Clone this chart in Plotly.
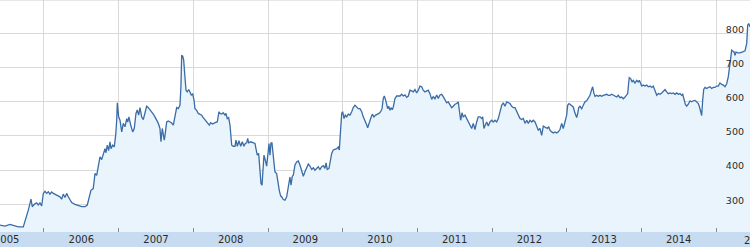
import plotly.graph_objects as go

# time in decimal years, price values
t = [
    2005.411, 2005.478, 2005.545, 2005.612, 2005.656, 2005.723, 2005.759, 2005.790, 2005.826, 2005.843,
    2005.870, 2005.902, 2005.924, 2005.946, 2005.969, 2005.991, 2006.013, 2006.036, 2006.058, 2006.080,
    2006.103, 2006.125, 2006.170, 2006.214, 2006.237, 2006.258, 2006.281, 2006.304, 2006.325, 2006.348,
    2006.371, 2006.415, 2006.459, 2006.505, 2006.549, 2006.580, 2006.607, 2006.629, 2006.660, 2006.683,
    2006.706, 2006.727, 2006.750, 2006.773, 2006.794, 2006.817, 2006.830, 2006.848, 2006.866, 2006.884,
    2006.897, 2006.920, 2006.941, 2006.960, 2006.974, 2006.982, 2007.000, 2007.018, 2007.041, 2007.062,
    2007.085, 2007.108, 2007.121, 2007.138, 2007.161, 2007.188, 2007.209, 2007.232, 2007.249, 2007.268,
    2007.286, 2007.308, 2007.330, 2007.353, 2007.375, 2007.397, 2007.420, 2007.442, 2007.464, 2007.486,
    2007.509, 2007.531, 2007.553, 2007.567, 2007.584, 2007.598, 2007.611, 2007.624, 2007.643, 2007.665,
    2007.687, 2007.710, 2007.732, 2007.754, 2007.777, 2007.799, 2007.821, 2007.834, 2007.844, 2007.857,
    2007.871, 2007.884, 2007.902, 2007.919, 2007.938, 2007.955, 2007.973, 2007.991, 2008.009, 2008.022,
    2008.045, 2008.066, 2008.089, 2008.112, 2008.125, 2008.143, 2008.160, 2008.179, 2008.200, 2008.214,
    2008.232, 2008.259, 2008.290, 2008.321, 2008.344, 2008.357, 2008.380, 2008.401, 2008.424, 2008.437,
    2008.455, 2008.473, 2008.491, 2008.514, 2008.535, 2008.558, 2008.571, 2008.589, 2008.611, 2008.634,
    2008.656, 2008.678, 2008.696, 2008.715, 2008.728, 2008.741, 2008.768, 2008.803, 2008.826, 2008.839,
    2008.856, 2008.875, 2008.893, 2008.906, 2008.920, 2008.933, 2008.946, 2008.964, 2008.982, 2009.000,
    2009.013, 2009.027, 2009.040, 2009.053, 2009.071, 2009.093, 2009.116, 2009.134, 2009.151, 2009.170,
    2009.183, 2009.205, 2009.227, 2009.250, 2009.272, 2009.294, 2009.308, 2009.325, 2009.339, 2009.361,
    2009.384, 2009.406, 2009.428, 2009.451, 2009.473, 2009.495, 2009.518, 2009.540, 2009.562, 2009.585,
    2009.607, 2009.629, 2009.652, 2009.674, 2009.696, 2009.719, 2009.741, 2009.763, 2009.777, 2009.794,
    2009.817, 2009.830, 2009.853, 2009.874, 2009.897, 2009.920, 2009.941, 2009.955, 2009.973, 2009.987,
    2010.000, 2010.018, 2010.035, 2010.054, 2010.075, 2010.098, 2010.121, 2010.142, 2010.165, 2010.188,
    2010.209, 2010.232, 2010.255, 2010.276, 2010.299, 2010.322, 2010.335, 2010.352, 2010.375, 2010.397,
    2010.419, 2010.442, 2010.464, 2010.486, 2010.509, 2010.527, 2010.544, 2010.558, 2010.576, 2010.589,
    2010.603, 2010.616, 2010.634, 2010.647, 2010.664, 2010.678, 2010.701, 2010.723, 2010.745, 2010.768,
    2010.790, 2010.812, 2010.834, 2010.857, 2010.879, 2010.901, 2010.924, 2010.946, 2010.968, 2010.991,
    2011.013, 2011.035, 2011.058, 2011.079, 2011.102, 2011.125, 2011.146, 2011.169, 2011.192, 2011.213,
    2011.236, 2011.259, 2011.280, 2011.303, 2011.326, 2011.347, 2011.370, 2011.393, 2011.414, 2011.437,
    2011.460, 2011.481, 2011.504, 2011.527, 2011.548, 2011.562, 2011.580, 2011.598, 2011.615, 2011.638,
    2011.661, 2011.682, 2011.705, 2011.728, 2011.749, 2011.772, 2011.795, 2011.816, 2011.839, 2011.862,
    2011.875, 2011.892, 2011.910, 2011.929, 2011.950, 2011.973, 2011.996, 2012.017, 2012.040, 2012.063,
    2012.084, 2012.107, 2012.130, 2012.151, 2012.174, 2012.197, 2012.218, 2012.241, 2012.264, 2012.285,
    2012.308, 2012.331, 2012.352, 2012.375, 2012.398, 2012.419, 2012.442, 2012.465, 2012.486, 2012.509,
    2012.532, 2012.553, 2012.576, 2012.599, 2012.620, 2012.642, 2012.665, 2012.687, 2012.706, 2012.723,
    2012.741, 2012.759, 2012.776, 2012.799, 2012.821, 2012.843, 2012.866, 2012.888, 2012.910, 2012.933,
    2012.954, 2012.977, 2013.000, 2013.013, 2013.031, 2013.044, 2013.067, 2013.088, 2013.111, 2013.134,
    2013.147, 2013.161, 2013.178, 2013.201, 2013.222, 2013.245, 2013.268, 2013.289, 2013.312, 2013.335,
    2013.348, 2013.366, 2013.379, 2013.402, 2013.423, 2013.446, 2013.469, 2013.490, 2013.513, 2013.536,
    2013.557, 2013.580, 2013.603, 2013.624, 2013.647, 2013.669, 2013.691, 2013.714, 2013.736, 2013.758,
    2013.781, 2013.804, 2013.817, 2013.830, 2013.838, 2013.857, 2013.875, 2013.892, 2013.915, 2013.938,
    2013.959, 2013.973, 2013.991, 2014.005, 2014.026, 2014.049, 2014.071, 2014.093, 2014.116, 2014.139,
    2014.160, 2014.183, 2014.206, 2014.227, 2014.250, 2014.272, 2014.294, 2014.317, 2014.339, 2014.361,
    2014.383, 2014.406, 2014.428, 2014.451, 2014.473, 2014.495, 2014.518, 2014.540, 2014.554, 2014.571,
    2014.589, 2014.607, 2014.629, 2014.651, 2014.674, 2014.696, 2014.718, 2014.741, 2014.762, 2014.776,
    2014.795, 2014.808, 2014.821, 2014.835, 2014.852, 2014.875, 2014.896, 2014.919, 2014.942, 2014.963,
    2014.986, 2015.009, 2015.030, 2015.053, 2015.076, 2015.097, 2015.120, 2015.143, 2015.164, 2015.178,
    2015.197, 2015.210, 2015.224, 2015.241, 2015.255, 2015.268, 2015.290, 2015.321, 2015.357, 2015.388,
    2015.411, 2015.424, 2015.438, 2015.455,
]
price = [
    239, 236, 241, 236, 234, 234, 259, 283, 315, 293,
    300, 304, 298, 304, 295, 332, 338, 332, 337, 330,
    336, 332, 327, 322, 315, 330, 320, 332, 322, 312,
    305, 300, 296, 293, 293, 298, 322, 341, 346, 390,
    385, 410, 439, 431, 449, 463, 451, 473, 457, 483,
    463, 473, 468, 502, 546, 597, 556, 546, 512, 537,
    527, 551, 541, 556, 532, 512, 522, 566, 576, 561,
    583, 556, 548, 566, 587, 583, 577, 571, 564, 556,
    548, 537, 522, 483, 522, 502, 488, 507, 541, 544,
    541, 538, 532, 556, 583, 580, 590, 644, 735, 734,
    722, 683, 634, 629, 636, 629, 619, 624, 605, 580,
    575, 566, 564, 561, 556, 551, 546, 541, 537, 532,
    539, 535, 539, 541, 571, 566, 564, 568, 561, 566,
    551, 554, 532, 473, 470, 470, 488, 470, 486, 470,
    483, 470, 478, 480, 493, 480, 483, 480, 478, 463,
    444, 449, 410, 361, 356, 410, 444, 429, 412, 449,
    478, 444, 480, 480, 429, 395, 390, 361, 341, 324,
    322, 314, 312, 322, 346, 380, 356, 382, 385, 415,
    424, 427, 415, 395, 382, 395, 410, 418, 412, 402,
    407, 400, 405, 410, 402, 410, 413, 405, 421, 402,
    405, 420, 449, 459, 461, 463, 468, 459, 520, 566,
    571, 551, 561, 556, 564, 561, 571, 583, 590, 583,
    580, 580, 571, 556, 546, 532, 524, 539, 551, 564,
    556, 561, 563, 566, 571, 580, 610, 617, 605, 595,
    580, 587, 575, 583, 577, 585, 610, 617, 617, 617,
    622, 617, 620, 613, 617, 634, 632, 629, 636, 626,
    634, 646, 644, 634, 629, 632, 634, 624, 607, 615,
    609, 620, 610, 620, 622, 615, 605, 597, 600, 593,
    583, 587, 593, 595, 600, 576, 546, 568, 556, 561,
    551, 541, 532, 522, 537, 519, 541, 556, 556, 551,
    556, 522, 532, 541, 529, 541, 546, 541, 546, 541,
    551, 576, 590, 597, 587, 600, 597, 595, 587, 583,
    583, 573, 561, 551, 548, 551, 537, 546, 537, 546,
    541, 546, 541, 527, 517, 522, 502, 529, 527, 525,
    522, 527, 517, 512, 509, 512, 509, 512, 519, 537,
    522, 541, 561, 590, 595, 593, 590, 585, 567, 554,
    565, 583, 587, 580, 590, 600, 603, 609, 619, 636,
    644, 624, 616, 619, 616, 619, 616, 619, 621, 622,
    619, 619, 622, 619, 616, 614, 619, 612, 614, 609,
    614, 619, 624, 655, 671, 668, 658, 663, 655, 663,
    658, 663, 653, 646, 649, 646, 649, 644, 646, 642,
    646, 634, 619, 624, 622, 626, 632, 636, 629, 624,
    626, 624, 626, 622, 626, 622, 624, 619, 622, 604,
    593, 587, 593, 603, 600, 603, 604, 600, 595, 587,
    565, 560, 604, 636, 642, 639, 642, 644, 639, 642,
    642, 646, 646, 655, 651, 649, 644, 653, 673, 702,
    741, 751, 749, 746, 736, 746, 743, 743, 746, 749,
    771, 824, 829, 820,
]

year_labels = [2005, 2006, 2007, 2008, 2009, 2010, 2011, 2012, 2013, 2014, 2015]
year_starts = [2006, 2007, 2008, 2009, 2010, 2011, 2012, 2013, 2014, 2015]
price_ticks = [300, 400, 500, 600, 700, 800]

x_range = [2005.411, 2015.455]
y_range = [219, 898]

font_family = "DejaVu Sans"
grid_color = "#d9d9d9"
text_color = "#2a2a2a"

fig = go.Figure()
fig.add_trace(go.Scatter(
    x=t, y=price, mode="lines",
    line=dict(color="#3a6ca6", width=1.3),
    fill="tozeroy", fillcolor="#eaf4fc",
    hoverinfo="skip",
))

shown = [y for y in year_labels if x_range[0] <= y + 0.5 <= x_range[1]]
hidden = [y for y in year_labels if y not in shown]

fig.update_layout(
    width=750, height=247,
    margin=dict(l=0, r=0, t=0, b=15, autoexpand=False),
    paper_bgcolor="#c8dcf1",
    plot_bgcolor="#ffffff",
    showlegend=False,
    font=dict(family=font_family, size=10, color=text_color),
    xaxis=dict(
        range=x_range, showgrid=False, zeroline=False, showline=False,
        automargin=False,
        tickmode="array",
        tickvals=[y + 0.5 for y in shown],
        ticktext=[str(y) for y in shown],
        ticks="", tickfont=dict(size=10, color=text_color),
        ticklabeloverflow="allow",
        minor=dict(tickmode="array", tickvals=year_starts, showgrid=True,
                   gridcolor=grid_color, gridwidth=1, ticks="inside",
                   ticklen=4, tickcolor="#8a8a8a", tickwidth=1),
    ),
    yaxis=dict(
        range=y_range, side="right", ticklabelposition="inside",
        automargin=False,
        tickmode="array", tickvals=price_ticks,
        ticktext=[str(v) for v in price_ticks],
        showgrid=True, gridcolor=grid_color, gridwidth=1,
        zeroline=False, showline=False, ticks="",
        tickfont=dict(size=9.5, color=text_color),
        ticklabelshift=-4, ticklabelstandoff=3,
    ),
    shapes=[dict(type="line", xref="paper", yref="paper", x0=0, x1=1, y0=1, y1=1,
                 line=dict(color="#cfcfcf", width=1))],
)

# the year label whose mid-point falls just past the right edge (partly visible)
for y in hidden:
    if y + 0.5 > x_range[1]:
        fig.add_annotation(text=str(y), xref="paper", yref="paper", x=1, y=0,
                           xanchor="left", yanchor="top", xshift=-8, yshift=-1,
                           showarrow=False, font=dict(size=10, color=text_color))

fig.write_html("out.html")
